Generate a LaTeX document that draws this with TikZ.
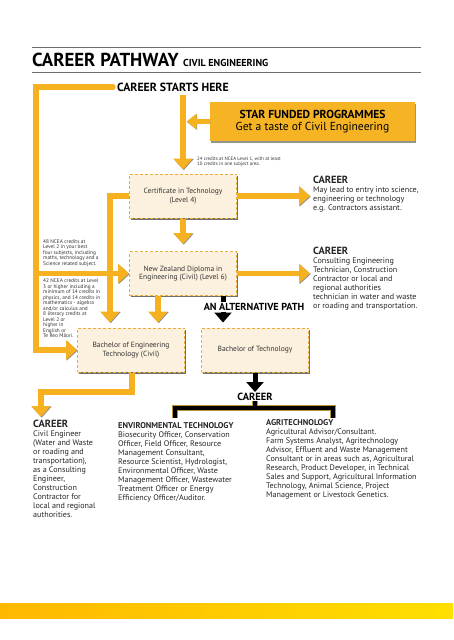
\documentclass[tikz,border=0pt]{standalone}
\usepackage{fontspec}
\setmainfont{PT Sans}
\usetikzlibrary{arrows.meta,shadows,calc}
\definecolor{pathyellow}{HTML}{F5B120}
\definecolor{staryellow}{HTML}{F6B425}
\definecolor{boxborder}{HTML}{E8AE38}
\definecolor{boxfill}{HTML}{FCF1DE}
\definecolor{rulegray}{HTML}{6E6E6E}
\definecolor{barL}{HTML}{FFB800}
\definecolor{barR}{HTML}{FFDF00}
\definecolor{goldedge}{HTML}{B8942E}
\tikzset{
  ybar/.style={draw=pathyellow, line width=5.5pt,
    preaction={draw=black!45, transform canvas={shift={(0.7pt,-0.7pt)}}}},
  yarrow/.style={ybar, -{Triangle[length=11pt,width=19pt]}},
  blarrow/.style={draw=black, line width=5pt, -{Triangle[length=10pt,width=17pt]}},
  dbox/.style={draw=boxborder, dash pattern=on 3pt off 2pt, line width=1pt, fill=boxfill,
    minimum width=107pt, minimum height=44pt, align=center, inner sep=2pt,
    font=\fontsize{7.5}{8.6}\selectfont, text=black!80,
    drop shadow={shadow xshift=1.2pt, shadow yshift=-1.5pt, fill=black!70, opacity=0.8}},
  body/.style={anchor=north west, inner sep=0pt, align=left, font=\fontsize{8.1}{9}\selectfont, text=black!85},
  tiny/.style={anchor=north west, inner sep=0pt, align=left, font=\fontsize{4.9}{5.8}\selectfont, text=black!80},
  tinyL/.style={tiny, font=\fontsize{5.3}{5.5}\selectfont},
  head/.style={font=\bfseries\fontsize{11.8}{11.8}\selectfont, inner sep=0pt},
  chead/.style={font=\bfseries\fontsize{10.4}{10.4}\selectfont}
}
\begin{document}
\begin{tikzpicture}[x=1pt,y=-1pt]
\useasboundingbox (0,0) rectangle (453,640);
% rules and title
\draw[rulegray, line width=0.8pt] (32,47) -- (421,47);
\draw[rulegray, line width=1pt] (32,72) -- (421,72);
\node[anchor=base west, inner sep=0pt, font=\bfseries\fontsize{18.8}{18.8}\selectfont] (title) at (32,66) {CAREER PATHWAY};
\node[anchor=base west, inner sep=0pt, font=\bfseries\fontsize{10.1}{10.1}\selectfont] (sub) at (183,66) {CIVIL ENGINEERING};
\node[head, anchor=west] (start) at (117,87) {CAREER STARTS HERE};
% boxes
\node[draw=none, fill=staryellow, minimum width=205pt, minimum height=39pt, align=center, inner sep=0pt,
  drop shadow={shadow xshift=1.2pt, shadow yshift=-1.5pt, fill=black!60, opacity=0.7}] (star) at (312.5,121.5)
  {{\bfseries\fontsize{11.6}{12}\selectfont STAR FUNDED PROGRAMMES}\\[0pt]{\fontsize{11.6}{12}\selectfont Get a taste of Civil Engineering}};
\node[dbox] (cert) at (183,196) {Certificate in Technology\\(Level 4)};
\node[dbox] (nzd) at (183,273.5) {New Zealand Diploma in\\Engineering (Civil) (Level 6)};
\node[dbox] (bet) at (131,350) {Bachelor of Engineering\\Technology (Civil)};
\node[dbox] (bt) at (255,350) {Bachelor of Technology};
% texts
\node[tiny] (req1) at (197,156.5) {24 credits at NCEA Level 1, with at least\\10 credits in one subject area.};
\node[tinyL] (req2) at (43,239.5) {48 NCEA credits at\\Level 2 in your best\\four subjects, including\\maths, technology and a\\Science related subject.};
\node[tinyL] (req3) at (43,279) {42 NCEA credits at Level\\3 or higher including a\\minimum of 14 credits in\\physics, and 14 credits in\\mathematics - algebra\\and/or calculus and\\8 literacy credits at\\Level 2 or\\higher in\\English or\\Te Reo Māori.};
\node[body] (car1) at (313,176) {\textbf{\fontsize{10.4}{10.4}\selectfont CAREER}\\May lead to entry into science,\\engineering or technology\\e.g. Contractors assistant.};
\node[body] (car2) at (313,247) {\textbf{\fontsize{10.4}{10.4}\selectfont CAREER}\\Consulting Engineering\\Technician, Construction\\Contractor or local and\\regional authorities\\technician in water and waste\\or roading and transportation.};
\node[body] (car3) at (33,420) {\textbf{\fontsize{10.4}{10.4}\selectfont CAREER}\\Civil Engineer\\(Water and Waste\\or roading and\\transportation),\\as a Consulting\\Engineer,\\Construction\\Contractor for\\local and regional\\authorities.};
\node[body] (env) at (118,422) {\textbf{\fontsize{8.4}{8.4}\selectfont ENVIRONMENTAL TECHNOLOGY}\\Biosecurity Officer, Conservation\\Officer, Field Officer, Resource\\Management Consultant,\\Resource Scientist, Hydrologist,\\Environmental Officer, Waste\\Management Officer, Wastewater\\Treatment Officer or Energy\\Efficiency Officer/Auditor.};
\node[body] (agri) at (266,419) {\textbf{\fontsize{8.4}{8.4}\selectfont AGRITECHNOLOGY}\\Agricultural Advisor/Consultant.\\Farm Systems Analyst, Agritechnology\\Advisor, Effluent and Waste Management\\Consultant or in areas such as, Agricultural\\Research, Product Developer, in Technical\\Sales and Support, Agricultural Information\\Technology, Animal Science, Project\\Management or Livestock Genetics.};
\node[chead, inner sep=0pt] (car4) at (255,397) {CAREER};
% coordinates
\coordinate (fa) at (113,87);
\coordinate (lx) at (36,87);
\coordinate (c0) at (183,95);
\coordinate (v2) at (110,0);
\coordinate (v3) at (158,0);
\coordinate (v4) at (223,0);
\coordinate (v5) at (132,0);
\coordinate (turn) at (41,392);
% yellow connectors
\draw[yarrow, line cap=round] (fa) -| (lx |- bet.west) -- (bet.west);
\draw[yarrow] (lx |- nzd.west) -- (nzd.west);
\draw[yarrow, shorten >=4pt] (c0) -- (cert.north);
\draw[yarrow, line width=5pt, -{Triangle[length=10pt,width=15pt]}] (star.west) -- ($(c0 |- star.west)+(3.5pt,0)$);
\draw[yarrow, shorten >=3pt] (cert.east) -- (cert.east -| car1.west);
\draw[yarrow, shorten >=7pt] (cert.south) -- (nzd.north);
\draw[yarrow, shorten >=3pt] (nzd.east) -- (nzd.east -| car2.west);
\draw[yarrow, shorten >=5pt] (cert.west) -| (v2 |- bet.north);
\draw[yarrow, shorten >=5pt] (v3 |- nzd.south) -- (v3 |- bet.north);
\draw[yarrow, shorten >=3pt] (v5 |- bet.south) |- (turn) -- (turn |- car3.north);
% black connectors
\draw[blarrow, shorten >=5pt] (v4 |- nzd.south) -- (v4 |- bt.north);
\node[fill=white, inner sep=1pt, font=\bfseries\fontsize{10.2}{10.2}\selectfont] (alt) at (254,307) {AN ALTERNATIVE PATH};
\draw[blarrow, shorten >=1pt] (bt.south) -- (car4.north);
\coordinate (bl) at (175,418);
\coordinate (br) at (333,418);
\coordinate (bm) at (255,408);
\draw[goldedge, line width=6.5pt] (bl) |- (bm) -| (br);
\draw[goldedge, line width=6.5pt] (car4.south) -- (bm);
\draw[black, line width=4.5pt] (bl) |- (bm) -| (br);
\draw[black, line width=4.5pt] (car4.south) -- (bm);
% bottom bar
\shade[left color=barL, right color=barR] (0,603) rectangle (453,618);
\end{tikzpicture}
\end{document}
